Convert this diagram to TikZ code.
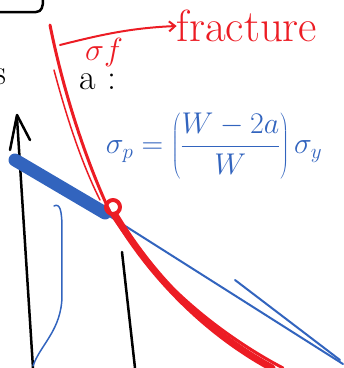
\RequirePackage{fix-cm}
\documentclass[tikz,border=0pt]{standalone}
\usepackage{tikz}
\usetikzlibrary{arrows.meta}
\definecolor{inkred}{RGB}{236,28,36}
\definecolor{inkblue}{RGB}{50,100,190}
\tikzset{
  blackink/.style={draw=black, line width=2.5pt, line cap=round, line join=round},
  redink/.style={draw=inkred, line width=3pt, line cap=round, line join=round},
  blueink/.style={draw=inkblue, line width=2pt, line cap=round, line join=round},
  hand/.style={font=\fontsize{#1}{#1}\selectfont, inner sep=0pt},
}

\begin{document}
\begin{tikzpicture}[x=1pt,y=-1pt]
  \useasboundingbox (0,0) rectangle (344,368);
  % black strokes
  \draw[blackink] (0,12) -- (36,12) .. controls (42,12) and (43,6) .. (43,0);
  \draw[blackink] (17,118) -- (33,368);
  \draw[blackink] (10,150) -- (17,115) -- (30,140);
  \draw[blackink] (122,252) -- (135,368);
  % blue strokes
  \draw[blueink, line width=13pt] (15,160) -- (105,213);
  \draw[blueink] (100,210) -- (343,364);
  \draw[blueink] (235,280) -- (340,360);
  \draw[blueink, line width=1.5pt] (54,206) .. controls (60,203) and (62,210) .. (62,230)
    -- (62,295) .. controls (62,330) and (40,345) .. (33,366);
  % red strokes
  \draw[redink] (50,25) .. controls (65,100) and (90,170) .. (110,212)
    .. controls (160,290) and (230,340) .. (283,368);
  \draw[redink, line width=1.5pt] (54,70) .. controls (70,130) and (85,170) .. (100,200);
  \draw[redink, line width=7pt] (115,215) .. controls (160,290) and (220,340) .. (272,368);
  \draw[redink, line width=4pt] (113,207) circle (7);
  % labels
  \node[hand=45, text=inkred] (fracture) at (247,26) {fracture};
  \coordinate (sigfstart) at (60,45);
  \draw[redink, line width=2pt, -{Straight Barb[length=6pt,width=10pt]}]
    (sigfstart) .. controls (100,35) and (130,28) .. (fracture.west);
  \node[hand=32, text=inkred] (sigmaf) at (104,52) {$\sigma f$};
  \node[hand=36] (alabel) at (98,82) {a :};
  \node[hand=36] (sletter) at (0,77) {s};
  \node[hand=30, text=inkblue] (sigmap) at (214,146)
    {$\displaystyle\sigma_p = \left(\frac{W-2a}{W}\right)\sigma_y$};
\end{tikzpicture}
\end{document}
